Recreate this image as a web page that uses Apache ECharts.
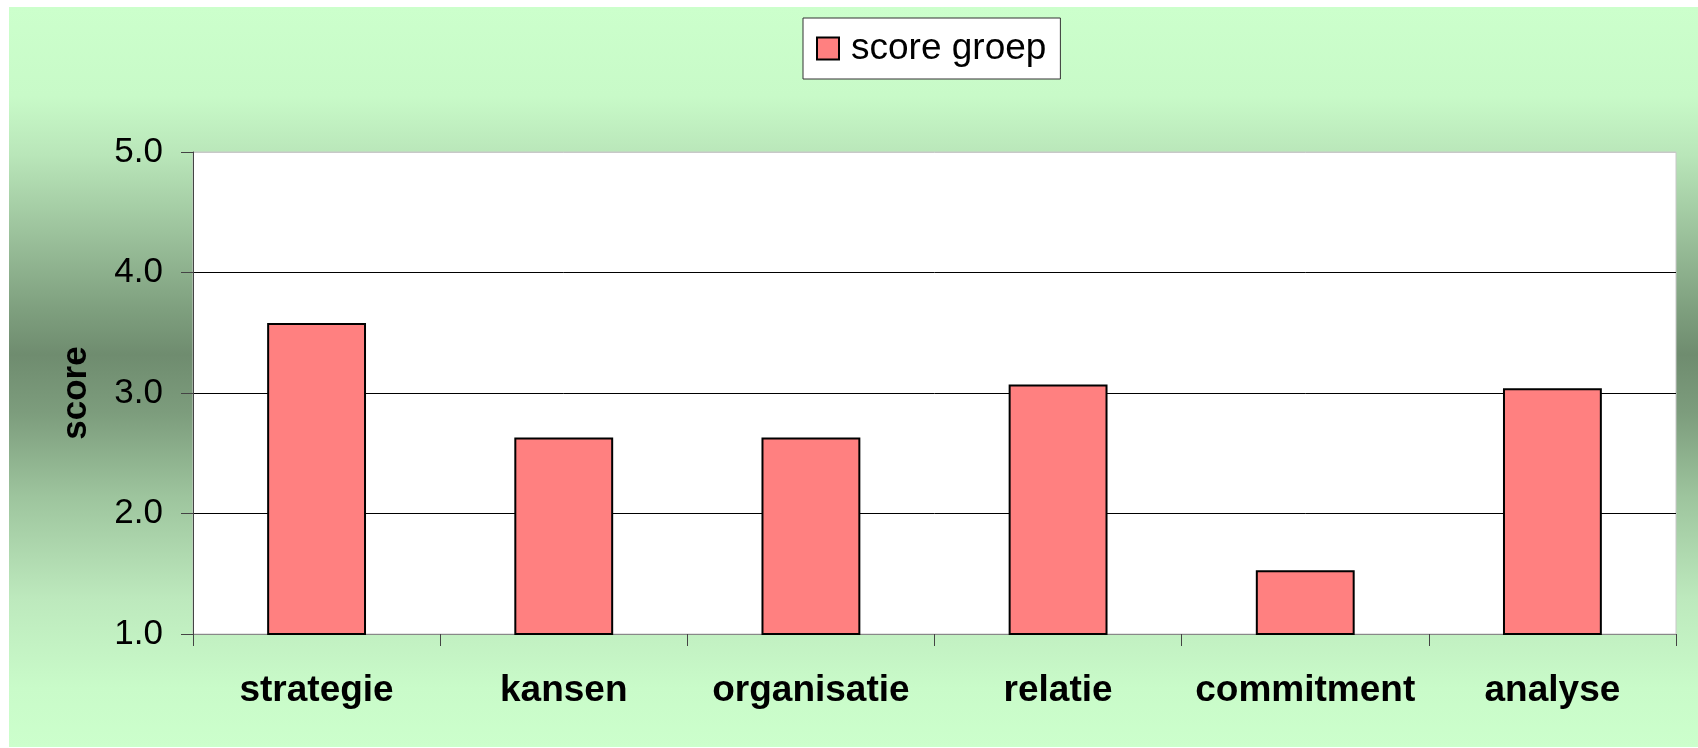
<!DOCTYPE html>
<html>
<head>
<meta charset="utf-8">
<script src="https://cdn.jsdelivr.net/npm/echarts@6/dist/echarts.min.js"></script>
<style>
html,body{margin:0;padding:0;background:#fff;}
#c{width:1698px;height:748px;}
</style>
</head>
<body>
<div id="c"></div>
<script>
const categories = ['strategie', 'kansen', 'organisatie', 'relatie', 'commitment', 'analyse'];
const scoreGroep = [3.58, 2.63, 2.63, 3.07, 1.53, 3.04];
const seriesName = 'score groep';
const yAxisName = 'score';
const yMin = 1, yMax = 5, yStep = 1;

const chart = echarts.init(document.getElementById('c'));
const FONT = '"Liberation Sans", Arial, sans-serif';
chart.setOption({
  animation: false,
  graphic: [{
    type: 'rect', left: 9, top: 7, z: -10, silent: true,
    shape: { width: 1689, height: 740 },
    style: {
      fill: new echarts.graphic.LinearGradient(0, 0, 0, 1, [
        { offset: 0, color: '#ccffcc' },
        { offset: 0.12, color: '#c8fac8' },
        { offset: 0.2, color: '#b9e6b9' },
        { offset: 0.32, color: '#98bd98' },
        { offset: 0.41, color: '#7e9f7e' },
        { offset: 0.47, color: '#6f8c6f' },
        { offset: 0.55, color: '#7d9d7d' },
        { offset: 0.66, color: '#9dc49d' },
        { offset: 0.8, color: '#bde9bd' },
        { offset: 0.92, color: '#c9fbc9' },
        { offset: 1, color: '#ccffcc' }
      ])
    }
  }],
  legend: {
    left: 803, top: 18,
    padding: [12, 14, 12, 13],
    backgroundColor: '#fff',
    borderColor: '#333', borderWidth: 1,
    icon: 'rect',
    itemWidth: 22, itemHeight: 22,
    itemStyle: { color: '#ff8080', borderColor: '#000', borderWidth: 2 },
    textStyle: { fontFamily: FONT, fontSize: 37, color: '#000', padding: [0, 0, 0, 7] },
    data: [seriesName]
  },
  grid: {
    left: 193, right: 22, top: 152, bottom: 114,
    show: true, backgroundColor: '#fff', borderColor: '#c8c8c8', borderWidth: 1
  },
  xAxis: {
    type: 'category', data: categories, boundaryGap: true,
    axisLine: { lineStyle: { color: '#888', width: 1 } },
    axisTick: { show: true, interval: 0, length: 12, lineStyle: { color: '#444' } },
    axisLabel: { interval: 0, margin: 38, fontFamily: FONT, fontSize: 37, fontWeight: 'bold', color: '#000' }
  },
  yAxis: {
    type: 'value', min: yMin, max: yMax, interval: yStep,
    name: yAxisName, nameLocation: 'middle', nameGap: 99, nameRotate: 90,
    nameTextStyle: { fontFamily: FONT, fontSize: 35, fontWeight: 'bold', color: '#000' },
    axisLine: { show: true, lineStyle: { color: '#444', width: 1 } },
    axisTick: { show: true, length: 12, lineStyle: { color: '#444' } },
    axisLabel: { margin: 30, fontFamily: FONT, fontSize: 35, color: '#000', formatter: v => v.toFixed(1) },
    splitLine: { show: true, lineStyle: { color: ['#888', '#000', '#000', '#000', '#c8c8c8'], width: 1 } }
  },
  series: [{
    name: seriesName, type: 'bar', data: scoreGroep, barWidth: '40%',
    itemStyle: { color: '#ff8080', borderColor: '#000', borderWidth: 2 }
  }]
});
</script>
</body>
</html>
